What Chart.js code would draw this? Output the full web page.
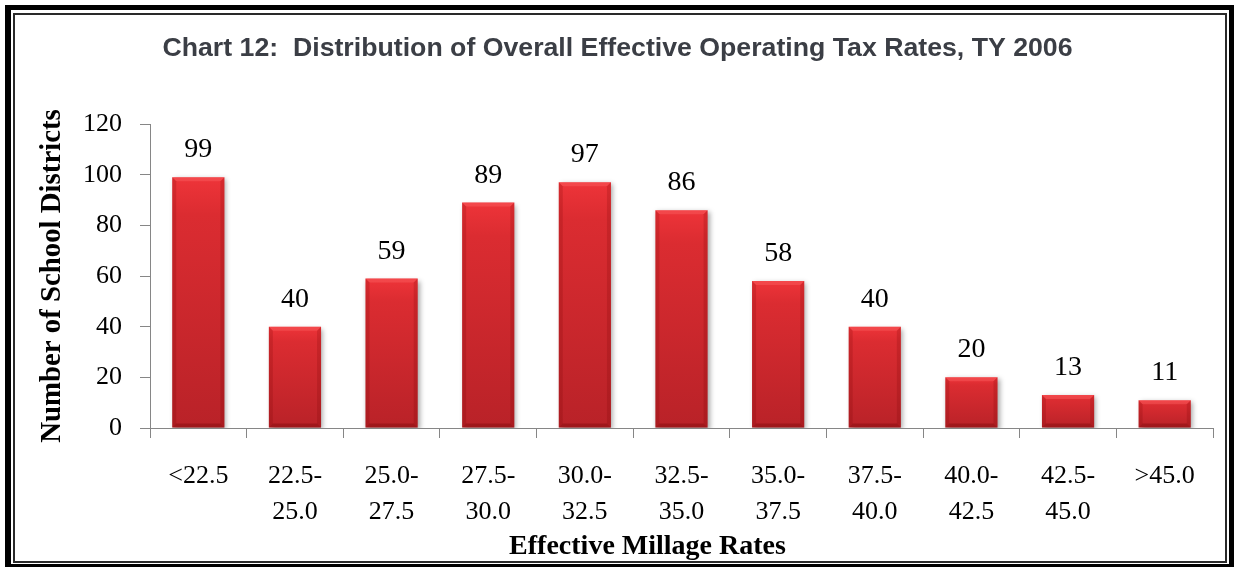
<!DOCTYPE html>
<html>
<head>
<meta charset="utf-8">
<title>Effective Operating Tax Rates</title>
<script src="https://cdn.jsdelivr.net/npm/chart.js@4.4.1/dist/chart.umd.min.js"></script>
<style>
  html, body { margin: 0; padding: 0; background: #fff; }
  #wrap { position: relative; width: 1235px; height: 567px; overflow: hidden; }
  #chart { position: absolute; left: 0; top: 0; }
  .frame { position: absolute; box-sizing: border-box; pointer-events: none; }
  #outer { left: 5px; top: 5px; width: 1229px; height: 565px; border-style: solid; border-color: #000; border-width: 5px 5px 6px 6px; }
  #inner { left: 13px; top: 13px; width: 1214px; height: 550px; border: 2px solid #2a2a2a; }
</style>
</head>
<body>
<div id="wrap">
  <canvas id="chart" width="1235" height="567"></canvas>
  <div class="frame" id="outer"></div>
  <div class="frame" id="inner"></div>
</div>
<script>
// millage rate bands (x axis) and number of districts in each
const categories = ['<22.5', ['22.5-', '25.0'], ['25.0-', '27.5'], ['27.5-', '30.0'], ['30.0-', '32.5'],
  ['32.5-', '35.0'], ['35.0-', '37.5'], ['37.5-', '40.0'], ['40.0-', '42.5'], ['42.5-', '45.0'], '>45.0'];
const districts = [99, 40, 59, 89, 97, 86, 58, 40, 20, 13, 11];
const yTicks = [0, 20, 40, 60, 80, 100, 120];

const serif = "'Liberation Serif', 'DejaVu Serif', serif";
const axisGray = '#868686';

// vertical red gradient per bar, from the bar's own top down to zero
function barFill(c) {
  const chart = c.chart;
  const y = chart.scales.y;
  if (c.type !== 'data' || !y) return '#d22a2f';
  const top = y.getPixelForValue(c.raw);
  const base = y.getPixelForValue(0);
  if (!isFinite(top) || !isFinite(base) || top === base) return '#d22a2f';
  const g = chart.ctx.createLinearGradient(0, top, 0, base);
  g.addColorStop(0, '#ee3439');
  g.addColorStop(0.15, '#db2c31');
  g.addColorStop(1, '#b92228');
  return g;
}

// shadow + bevel on the bars, value labels and the x axis title
const barDecor = {
  id: 'barDecor',
  beforeDatasetsDraw(chart) {
    const ctx = chart.ctx;
    ctx.save();
    ctx.shadowColor = 'rgba(0,0,0,0.35)';
    ctx.shadowBlur = 5;
    ctx.shadowOffsetX = 2;
    ctx.shadowOffsetY = 2;
  },
  afterDatasetsDraw(chart) {
    const ctx = chart.ctx;
    ctx.restore();
    const meta = chart.getDatasetMeta(0);
    meta.data.forEach((bar, i) => {
      const { x, y, width, base } = bar.getProps(['x', 'y', 'width', 'base'], true);
      const l = x - width / 2, r = x + width / 2;
      const b = 4;
      ctx.save();
      // top highlight
      ctx.fillStyle = 'rgba(255,110,110,0.35)';
      ctx.beginPath();
      ctx.moveTo(l, y); ctx.lineTo(r, y); ctx.lineTo(r - b, y + b); ctx.lineTo(l + b, y + b);
      ctx.closePath(); ctx.fill();
      // side shading
      ctx.fillStyle = 'rgba(110,0,0,0.18)';
      ctx.beginPath();
      ctx.moveTo(l, y); ctx.lineTo(l + b, y + b); ctx.lineTo(l + b, base - b); ctx.lineTo(l, base);
      ctx.closePath(); ctx.fill();
      ctx.beginPath();
      ctx.moveTo(r, y); ctx.lineTo(r - b, y + b); ctx.lineTo(r - b, base - b); ctx.lineTo(r, base);
      ctx.closePath(); ctx.fill();
      // bottom shading
      ctx.fillStyle = 'rgba(100,0,0,0.3)';
      ctx.beginPath();
      ctx.moveTo(l, base); ctx.lineTo(r, base); ctx.lineTo(r - b, base - b); ctx.lineTo(l + b, base - b);
      ctx.closePath(); ctx.fill();
      ctx.restore();

      ctx.save();
      ctx.fillStyle = '#000';
      ctx.font = '28px ' + serif;
      ctx.textAlign = 'center';
      ctx.textBaseline = 'alphabetic';
      ctx.fillText(String(districts[i]), x, y - 20);
      ctx.restore();
    });

    const area = chart.chartArea;
    ctx.save();
    ctx.fillStyle = '#000';
    ctx.font = 'bold 28px ' + serif;
    ctx.textAlign = 'center';
    ctx.textBaseline = 'alphabetic';
    ctx.fillText('Effective Millage Rates', (area.left + area.right) / 2 - 34, 554);
    ctx.restore();
  }
};

new Chart(document.getElementById('chart'), {
  type: 'bar',
  data: {
    labels: categories,
    datasets: [{
      data: districts,
      backgroundColor: barFill,
      borderWidth: 0,
      categoryPercentage: 1,
      barPercentage: 0.54
    }]
  },
  options: {
    responsive: false,
    animation: false,
    devicePixelRatio: 1,
    layout: { padding: { left: 22, right: 22, top: 0, bottom: 0 } },
    plugins: {
      legend: { display: false },
      tooltip: { enabled: false },
      title: {
        display: true,
        text: 'Chart 12:  Distribution of Overall Effective Operating Tax Rates, TY 2006',
        color: '#3b3e45',
        font: { family: "'Liberation Sans', Arial, sans-serif", size: 26.7, weight: 'bold', lineHeight: 1.2 },
        padding: { top: 33, bottom: 59 }
      }
    },
    scales: {
      x: {
        grid: { drawOnChartArea: false, tickLength: 10, color: axisGray },
        border: { color: axisGray },
        ticks: {
          color: '#000',
          font: { family: serif, size: 26, lineHeight: 1.385 },
          padding: 20,
          maxRotation: 0,
          autoSkip: false
        },
        afterFit: s => { s.height = 139; }
      },
      y: {
        min: yTicks[0],
        max: yTicks[yTicks.length - 1],
        ticks: {
          stepSize: yTicks[1] - yTicks[0],
          color: '#000',
          font: { family: serif, size: 26 },
          padding: 18
        },
        grid: { drawOnChartArea: false, tickLength: 10, color: axisGray },
        border: { color: axisGray },
        title: {
          display: true,
          text: 'Number of School Districts',
          color: '#000',
          font: { family: serif, size: 28.8, weight: 'bold', lineHeight: 1.2 },
          padding: { top: 13, bottom: 0 }
        },
        afterFit: s => { s.width = 128; }
      }
    }
  },
  plugins: [barDecor]
});
</script>
</body>
</html>
